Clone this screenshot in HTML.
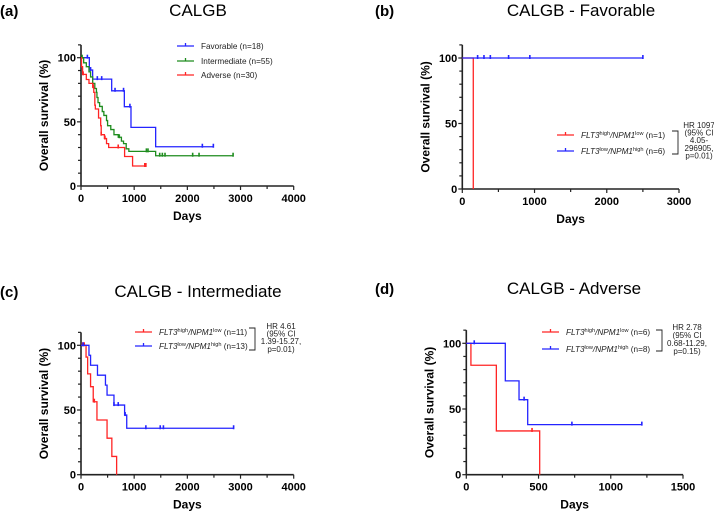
<!DOCTYPE html>
<html><head><meta charset="utf-8"><style>
html,body{margin:0;padding:0;background:#fff;}
svg{display:block;font-family:"Liberation Sans",Arial,sans-serif;}
.tk{font-weight:bold;font-size:11px;}
.at{font-weight:bold;font-size:12px;}
.tt{font-size:17px;}
.pl{font-weight:bold;font-size:15px;}
.lg{font-size:8.2px;}
.hr{font-size:8px;}
</style></head><body>
<svg id="fig" width="714" height="513" viewBox="0 0 714 513"></svg>
<script>
// ---- Data ----
// Panel (a)
const aFavSteps = [[0,100],[157,90.4],[219,83.3],[577,74.2],[815,61.8],[940,45.7],[1404,30.6],[2500,30.6]];
const aFavCens = [120,180,307,389,640,800,920,2282,2489];
const aIntSteps = [[0,100],[50,96],[100,93],[150,89],[180,85],[220,80],[260,76],[290,73],[300,69],[320,65],[350,62],[400,58],[430,55],[480,51],[500,47],[560,44],[620,40],[700,38],[760,35],[800,33],[850,29],[900,27],[1404,23.6],[2860,23.6]];
const aIntCens = [20,720,1230,1260,1480,1530,1580,2100,2220,2860];
const aAdvSteps = [[0,100],[10,93],[30,87],[100,83],[150,80],[220,77],[240,73],[260,63],[270,60],[330,53],[370,47],[380,40],[440,37],[480,33],[520,30],[820,23],[970,15.6],[1220,15.6]];
const aAdvCens = [40,230,380,450,700,1200,1220];
// Panel (b)
const bRedSteps = [[0,100],[152,0]];
const bRedCens = [];
const bBlueSteps = [[0,100],[2500,100]];
const bBlueCens = [212,300,388,641,935,2500];
// Panel (c)
const cRedSteps = [[0,100],[95,90.9],[125,77.9],[180,68],[230,56.4],[300,42.3],[490,28.2],[580,14.1],[670,0]];
const cRedCens = [30,60,250];
const cBlueSteps = [[0,100],[150,92.3],[180,84.6],[310,76.9],[460,69.2],[490,61.5],[620,53.8],[820,46.1],[860,35.9],[2870,35.9]];
const cBlueCens = [40,620,700,830,1220,1490,1550,2870];
// Panel (d)
const dRedSteps = [[0,100],[32,83.3],[208,33.3],[508,0]];
const dRedCens = [455];
const dBlueSteps = [[0,100],[270,71.4],[365,57.1],[425,38.1],[1215,38.1]];
const dBlueCens = [55,400,731,1215];

const NS='http://www.w3.org/2000/svg';
const svg=document.getElementById('fig');
function mk(tag,attrs,parent,text){const e=document.createElementNS(NS,tag);for(const k in attrs)e.setAttribute(k,attrs[k]);if(text!==undefined)e.textContent=text;(parent||svg).appendChild(e);return e;}
function survAt(steps,t){let s=steps[0][1];for(const p of steps){if(p[0]<=t)s=p[1];}return s;}

function panel(o){
  const g=mk('g',{});
  
  
  const X=v=>o.x0+(v/o.xmax)*(o.x1-o.x0);
  const Y=v=>o.y0-(v/100)*(o.y0-o.y100);
  const ax=mk('g',{},g);
  
  
  mk('line',{x1:o.x0,y1:Y(110),x2:o.x0,y2:o.y0,stroke:'#222','stroke-width':1.6},ax);
  mk('line',{x1:o.x0,y1:o.y0,x2:o.x1,y2:o.y0,stroke:'#222','stroke-width':1.6},ax);
  for(let v=0;v<=110;v+=10){const maj=v%50===0;mk('line',{x1:o.x0-(maj?4:3),y1:Y(v),x2:o.x0,y2:Y(v),stroke:'#222','stroke-width':1.2},ax);
    if(maj){const t=mk('text',{x:o.x0-5,y:Y(v)+4,'text-anchor':'end',class:'tk'},ax,String(v));}}
  for(let v=0;v<=o.xmax;v+=o.minor){const maj=v%o.major===0;mk('line',{x1:X(v),y1:o.y0,x2:X(v),y2:o.y0+(maj?4:3),stroke:'#222','stroke-width':1.2},ax);
    if(maj){const t=mk('text',{x:X(v),y:o.y0+16,'text-anchor':'middle',class:'tk'},ax,String(v));}}
  const xt=mk('text',{x:(o.x0+o.x1)/2,y:o.y0+34,'text-anchor':'middle',class:'at'},g,'Days');
  
  
  const yc=(o.y0+Y(110))/2;
  const yt=mk('text',{x:o.x0-33,y:yc,'text-anchor':'middle',class:'at',transform:`rotate(-90 ${o.x0-33} ${yc})`},g,'Overall survival (%)');
  
  
  const tt=mk('text',{x:o.tx,y:o.ty,'text-anchor':'middle',class:'tt'},g,o.title);
  
  
  const pl=mk('text',{x:o.lx,y:o.ty,class:'pl'},g,o.label);
  
  
  o.series.forEach(s=>{
    let d=`M${X(s.steps[0][0])},${Y(s.steps[0][1])}`;
    for(let i=1;i<s.steps.length;i++){d+=` H${X(s.steps[i][0])} V${Y(s.steps[i][1])}`;}
    const p=mk('path',{d:d,fill:'none',stroke:s.color,'stroke-width':1.3},g);
    
    
    s.cens.forEach(c=>{const yy=Y(survAt(s.steps,c));const m=mk('line',{x1:X(c),y1:yy-3,x2:X(c),y2:yy+1,stroke:s.color,'stroke-width':1.6},g);
      
      });
  });
  o.legend.forEach(L=>{
    const lg=mk('g',{},g);
    
    
    mk('line',{x1:L.x,y1:L.y,x2:L.x+17,y2:L.y,stroke:L.color,'stroke-width':1.2},lg);
    mk('line',{x1:L.x+8.5,y1:L.y-3,x2:L.x+8.5,y2:L.y,stroke:L.color,'stroke-width':1.3},lg);
    const t=mk('text',{x:L.x+24,y:L.y+3,class:'lg',fill:'#222'},lg);
    if(L.parts){L.parts.forEach(pt=>{const ts=mk('tspan',{},t,pt[0]);if(pt[1]==='i')ts.setAttribute('font-style','italic');if(pt[1]==='s'){ts.setAttribute('font-size','5.6');ts.setAttribute('dy','-3');}if(pt[1]==='i0'){ts.setAttribute('font-style','italic');ts.setAttribute('dy','3');}if(pt[1]==='n'){ts.setAttribute('dy','3');}});}
    else t.textContent=L.text;
  });
  if(o.hr){
    const h=o.hr;
    const b=mk('path',{d:`M${h.bx},${h.by0} H${h.bx+6} V${h.by1} H${h.bx}`,fill:'none',stroke:'#222','stroke-width':0.9},g);
    
    
    const ht=mk('text',{class:'hr','text-anchor':'middle',fill:'#222'},g);
    
    
    h.lines.forEach((ln,i)=>mk('tspan',{x:h.cx,y:h.y+i*h.dy},ht,ln));
  }
}
const sup=(a,b,n)=>[[ 'FLT3','i'],[a,'s'],['/','i0'],['NPM1','i'],[b,'s'],[' ('+n+')','n']];
panel({name:'panel-a',label:'(a)',title:'CALGB',tx:198,ty:16,lx:0,x0:81,x1:293.7,xmax:4000,major:1000,minor:500,y0:186,y100:57.7,
  series:[{id:'favorable',color:'#2424ff',steps:aFavSteps,cens:aFavCens},{id:'intermediate',color:'#1e8c1e',steps:aIntSteps,cens:aIntCens},{id:'adverse',color:'#ff2424',steps:aAdvSteps,cens:aAdvCens}],
  legend:[{x:177,y:46,color:'#2424ff',text:'Favorable (n=18)'},{x:177,y:61,color:'#1e8c1e',text:'Intermediate (n=55)'},{x:177,y:75,color:'#ff2424',text:'Adverse (n=30)'}]});
panel({name:'panel-b',label:'(b)',title:'CALGB - Favorable',tx:581,ty:16,lx:375,x0:462.3,x1:679,xmax:3000,major:1000,minor:500,y0:189,y100:58,
  series:[{id:'flt3high',color:'#ff2424',steps:bRedSteps,cens:bRedCens},{id:'flt3low',color:'#2424ff',steps:bBlueSteps,cens:bBlueCens}],
  legend:[{x:557,y:135,color:'#ff2424',parts:sup('high','low','n=1')},{x:557,y:151,color:'#2424ff',parts:sup('low','high','n=6')}],
  hr:{bx:672,by0:131,by1:154,cx:699,y:128,dy:7.6,lines:['HR 1097','(95% CI','4.05-','296905,','p=0.01)']}});
panel({name:'panel-c',label:'(c)',title:'CALGB - Intermediate',tx:198,ty:297,lx:0,x0:81,x1:293.7,xmax:4000,major:1000,minor:500,y0:474.7,y100:345.3,
  series:[{id:'flt3high',color:'#ff2424',steps:cRedSteps,cens:cRedCens},{id:'flt3low',color:'#2424ff',steps:cBlueSteps,cens:cBlueCens}],
  legend:[{x:135,y:332,color:'#ff2424',parts:sup('high','low','n=11')},{x:135,y:346,color:'#2424ff',parts:sup('low','high','n=13')}],
  hr:{bx:249,by0:328,by1:350,cx:281,y:329,dy:7.6,lines:['HR 4.61','(95% CI','1.39-15.27,','p=0.01)']}});
panel({name:'panel-d',label:'(d)',title:'CALGB - Adverse',tx:574,ty:294,lx:375,x0:466.3,x1:683,xmax:1500,major:500,minor:250,y0:474.7,y100:343.3,
  series:[{id:'flt3high',color:'#ff2424',steps:dRedSteps,cens:dRedCens},{id:'flt3low',color:'#2424ff',steps:dBlueSteps,cens:dBlueCens}],
  legend:[{x:542,y:332,color:'#ff2424',parts:sup('high','low','n=6')},{x:542,y:349,color:'#2424ff',parts:sup('low','high','n=8')}],
  hr:{bx:656,by0:330,by1:351,cx:687,y:330,dy:8,lines:['HR 2.78','(95% CI','0.68-11.29,','p=0.15)']}});
</script>
</body></html>
